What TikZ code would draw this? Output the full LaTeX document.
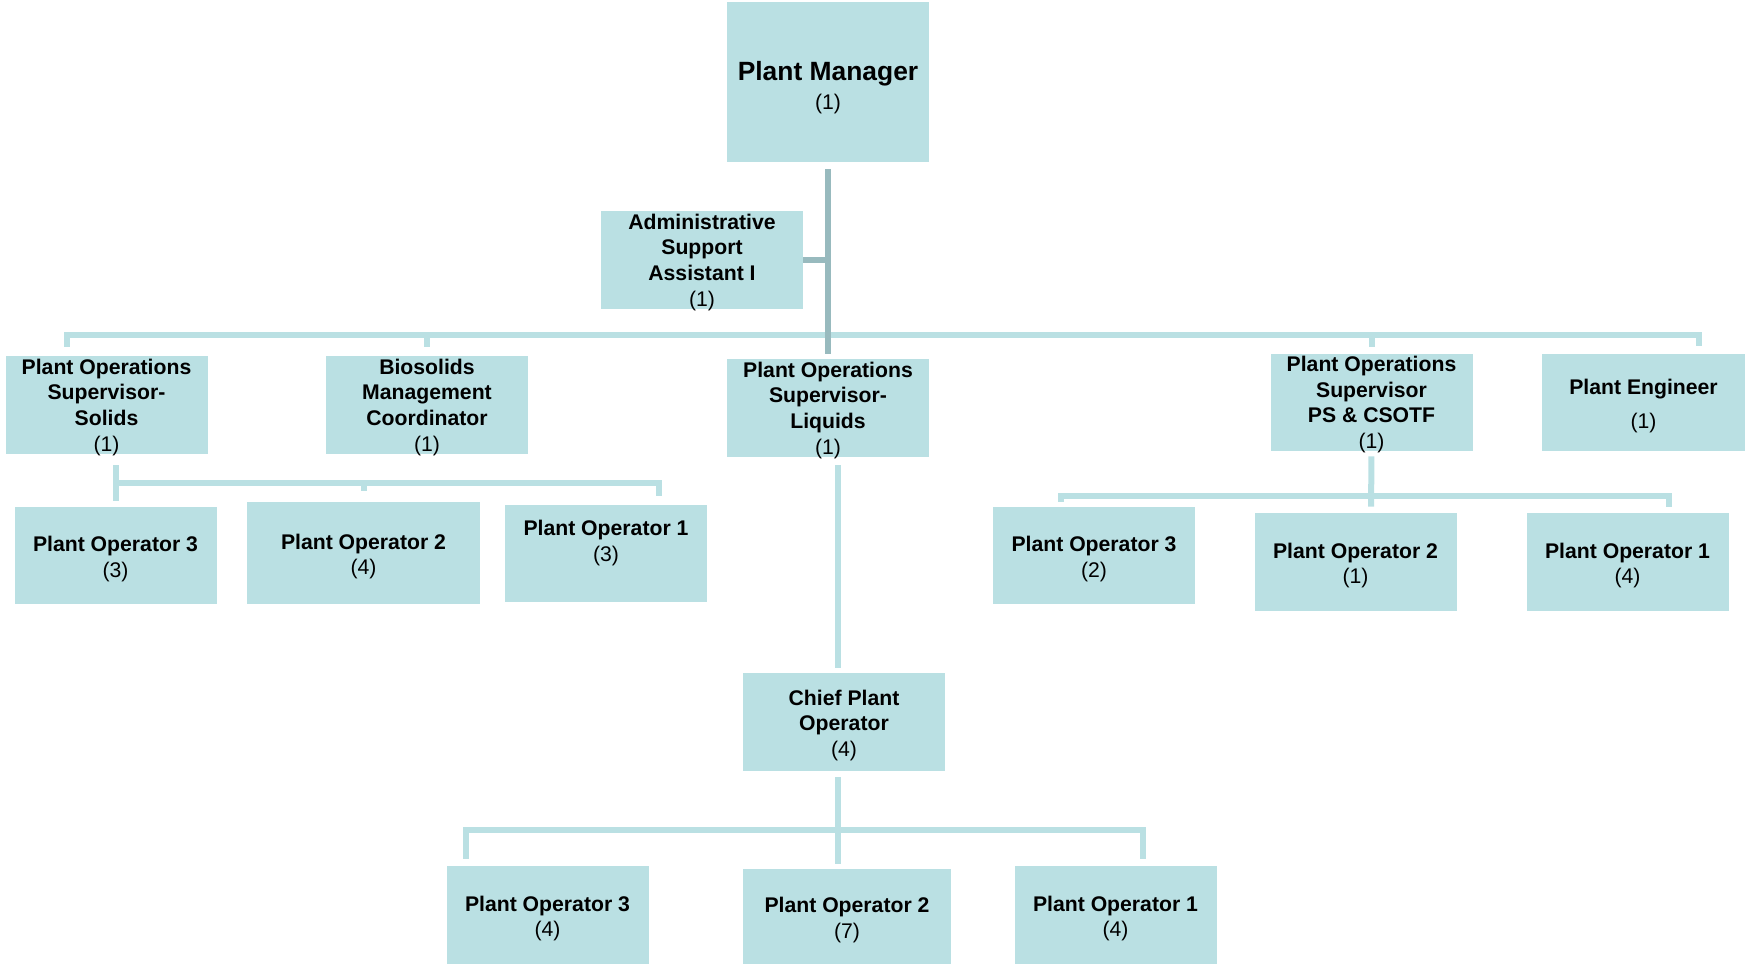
\documentclass[tikz,border=0pt]{standalone}
\usepackage{fontspec}
\setmainfont{Liberation Sans}
\usetikzlibrary{positioning}

\definecolor{boxfill}{RGB}{186,224,227}
\definecolor{linkcol}{RGB}{186,224,227}
\definecolor{trunkcol}{RGB}{152,186,190}

\newcommand\staff[1]{\\\mdseries(#1)}
\newcommand\lift[1][11pt]{\rule{0pt}{#1}}

\begin{document}
\begin{tikzpicture}[x=0.5pt,y=-0.5pt,
	post/.style={fill=boxfill, align=center, inner sep=1pt,
		font=\bfseries\fontsize{10.6}{12.8}\selectfont,
		minimum width=101pt, minimum height=49pt},
	fourline/.style={post, text depth=-1pt},
	link/.style={draw=linkcol, line width=3pt},
	trunk/.style={draw=trunkcol, line width=3pt},
	]
	\useasboundingbox (0,0) rectangle (1745,966);

	\node[post, minimum height=80pt,
	font=\bfseries\fontsize{13.2}{14.5}\selectfont] (pm) at (828,82)
	{\lift[15pt]Plant Manager\\\fontsize{10.6}{12.8}\selectfont\mdseries(1)};
	\node[fourline] (admin) at (702,260) {Administrative\\Support\\Assistant I\staff{1}};

	\node[fourline] (sol) at (106.5,405) {Plant Operations\\Supervisor-\\Solids\staff{1}};
	\node[fourline] (bio) at (427,405) {Biosolids\\Management\\Coordinator\staff{1}};
	\node[fourline] (liq) at (828,408) {Plant Operations\\Supervisor-\\Liquids\staff{1}};
	\node[fourline, minimum height=48.5pt] (ps) at (1371.5,402.5) {Plant Operations\\Supervisor\\PS \& CSOTF\staff{1}};
	\node[post, minimum width=101.5pt, minimum height=48.5pt] (eng) at (1643.5,402.5) {\lift Plant Engineer\\[4pt]\mdseries(1)};

	\node[post, minimum height=48.5pt] (sop3) at (115.5,555.5) {\lift Plant Operator 3\staff{3}};
	\node[post, minimum width=116.5pt, minimum height=51pt] (sop2) at (363.5,553) {\lift Plant Operator 2\staff{4}};
	\node[post, minimum height=48.5pt] (sop1) at (606,553.5) {Plant Operator 1\staff{3}\\\mbox{}};

	\node[post] (chief) at (844,722) {\lift Chief Plant\\Operator\staff{4}};
	\node[post] (lop3) at (547.5,915) {\lift Plant Operator 3\staff{4}};
	\node[post, minimum width=104pt, minimum height=47.5pt] (lop2) at (847,916.5) {\lift Plant Operator 2\staff{7}};
	\node[post] (lop1) at (1115.5,915) {\lift Plant Operator 1\staff{4}};

	\node[post, minimum height=48.5pt] (pop3) at (1094,555.5) {\lift Plant Operator 3\staff{2}};
	\node[post] (pop2) at (1355.5,562) {\lift Plant Operator 2\staff{1}};
	\node[post] (pop1) at (1627.5,562) {\lift Plant Operator 1\staff{4}};

	% main bus
	\coordinate (bus) at (828,335);
	\draw[link, shorten <=4.5pt, shorten >=4pt]
	([xshift=-19.75pt]sol.north) |- (bus) -| ([xshift=27.75pt]eng.north);
	\draw[link, shorten <=4.5pt] (bio.north) -- (bio.north |- bus);
	\draw[link, shorten <=3.5pt] (ps.north) -- (ps.north |- bus);
	\draw[trunk, shorten <=3.5pt, shorten >=2.5pt] (pm.south) -- (liq.north);
	\draw[trunk] (admin.east) -- (admin.east -| pm.south);

	% solids
	\coordinate (sbus) at (116,483);
	\draw[link, shorten <=5.5pt, shorten >=3pt] (sop3.north |- sol.south) -- (sop3.north);
	\draw[link] (sbus) -| ([yshift=5.5pt]sop2.north);
	\draw[link] (sbus) -| ([xshift=26.5pt,yshift=4.5pt]sop1.north);

	% liquids
	\coordinate (lbus) at (838,830);
	\draw[link, shorten <=4pt, shorten >=2.5pt] ([xshift=5pt]liq.south) -- ([xshift=-3pt]chief.north);
	\draw[link, shorten <=3pt, shorten >=2.5pt] ([xshift=-3pt]chief.south) -- ([xshift=-4.5pt]lop2.north);
	\draw[link, shorten >=3.5pt] (lbus) -| ([xshift=-40.75pt]lop3.north);
	\draw[link, shorten >=3.5pt] (lbus) -| ([xshift=13.75pt]lop1.north);

	% pumping stations
	\coordinate (pbus) at (1371,496);
	\draw[link, shorten <=2.5pt, shorten >=3pt] (ps.south) -- ([xshift=7.75pt]pop2.north);
	\draw[link, shorten >=2.5pt] (pbus) -| ([xshift=-16.5pt]pop3.north);
	\draw[link, shorten >=3pt] (pbus) -| ([xshift=20.75pt]pop1.north);
\end{tikzpicture}
\end{document}
